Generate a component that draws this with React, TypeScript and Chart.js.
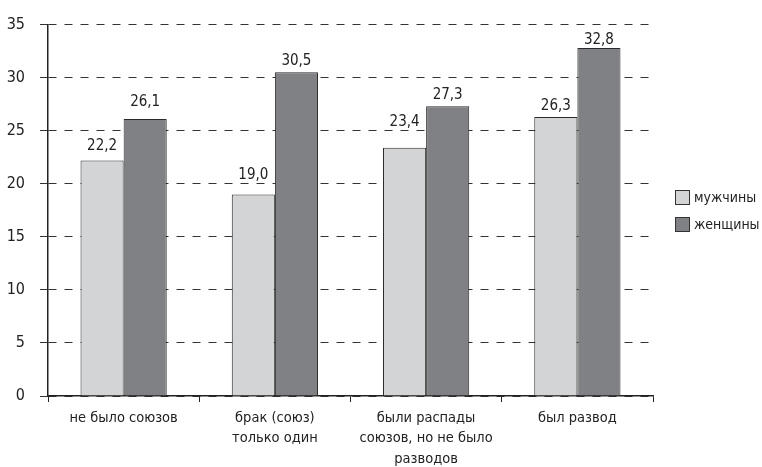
import React, { useEffect, useRef } from "react";
import { Chart, registerables } from "chart.js";

Chart.register(...registerables);

const categories: string[][] = [
  ["не было союзов"],
  ["брак (союз)", "только один"],
  ["были распады", "союзов, но не было", "разводов"],
  ["был развод"],
];
const seriesNames = ["мужчины", "женщины"];
const men = [22.2, 19.0, 23.4, 26.3];
const women = [26.1, 30.5, 27.3, 32.8];
const yTicks = [0, 5, 10, 15, 20, 25, 30, 35];

// gap (px) between bar top and its value label, per series, as in the source layout
const labelGapMen = [10, 15, 22, 7];
const labelGapWomen = [13, 7, 7, 4];

const FONT = "'Liberation Sans Narrow', 'Arial Narrow', 'DejaVu Sans Condensed', 'Liberation Sans', sans-serif";
const TEXT = "#222";

const fmt = (v: number) => v.toFixed(1).replace(".", ",");

const valueLabels = {
  id: "valueLabels",
  afterDatasetsDraw(chart: any) {
    const ctx = chart.ctx;
    ctx.save();
    ctx.font = `15px ${FONT}`;
    ctx.fillStyle = TEXT;
    ctx.textAlign = "center";
    ctx.textBaseline = "alphabetic";
    const gaps = [labelGapMen, labelGapWomen];
    chart.data.datasets.forEach((ds: any, i: number) => {
      const meta = chart.getDatasetMeta(i);
      meta.data.forEach((bar: any, j: number) => {
        ctx.fillText(fmt(ds.data[j]), bar.x, bar.y - gaps[i][j]);
      });
    });
    ctx.restore();
  },
};

const sideLegend = {
  id: "sideLegend",
  afterDraw(chart: any) {
    const ctx = chart.ctx;
    ctx.save();
    ctx.font = `14px ${FONT}`;
    ctx.textAlign = "left";
    ctx.textBaseline = "middle";
    const x = 675;
    const y0 = 190;
    chart.data.datasets.forEach((ds: any, i: number) => {
      const y = y0 + i * 27;
      ctx.fillStyle = ds.backgroundColor;
      ctx.fillRect(x + 0.5, y + 0.5, 14, 14);
      ctx.strokeStyle = "#333";
      ctx.lineWidth = 1;
      ctx.strokeRect(x + 0.5, y + 0.5, 14, 14);
      ctx.fillStyle = TEXT;
      ctx.fillText(ds.label, x + 19, y + 8);
    });
    ctx.restore();
  },
};

export default function App() {
  const ref = useRef<HTMLCanvasElement>(null);
  useEffect(() => {
    if (!ref.current) return;
    const chart = new Chart(ref.current, {
      type: "bar",
      data: {
        labels: categories,
        datasets: [
          {
            label: seriesNames[0],
            data: men,
            backgroundColor: "#d3d4d6",
            borderColor: "#2a2a2a",
            borderWidth: 1,
          },
          {
            label: seriesNames[1],
            data: women,
            backgroundColor: "#808184",
            borderColor: "#2a2a2a",
            borderWidth: 1,
          },
        ],
      },
      options: {
        animation: false,
        responsive: false,
        maintainAspectRatio: false,
        layout: { padding: { top: 20, right: 109, left: 0, bottom: 0 } },
        plugins: {
          legend: { display: false },
          tooltip: { enabled: false },
        },
        datasets: {
          bar: { categoryPercentage: 0.57, barPercentage: 1.0 },
        },
        scales: {
          x: {
            offset: true,
            grid: {
              display: true,
              offset: true,
              drawOnChartArea: false,
              drawTicks: true,
              tickLength: 6,
              color: "#222",
            },
            border: { display: true, color: "#222", width: 1.5 },
            ticks: {
              color: TEXT,
              font: { family: FONT, size: 14.5, lineHeight: 1.4 },
              padding: 6,
              maxRotation: 0,
              autoSkip: false,
            },
            afterFit: (s: any) => {
              s.height = 71;
            },
          },
          y: {
            min: 0,
            max: 35,
            afterBuildTicks: (s: any) => {
              s.ticks = yTicks.map((v) => ({ value: v }));
            },
            grid: {
              color: "#333",
              lineWidth: 1,
              tickLength: 8,
              tickColor: "#333",
            },
            border: { display: true, color: "#222", width: 1.5, dash: [8, 8] },
            ticks: {
              color: TEXT,
              font: { family: FONT, size: 16 },
              padding: 15,
            },
            afterFit: (s: any) => {
              s.width = 48;
            },
          },
        },
      },
      plugins: [valueLabels, sideLegend],
    });
    return () => chart.destroy();
  }, []);
  return (
    <div style={{ position: "fixed", left: 0, top: 0, width: 762, height: 467, background: "#fff" }}>
      <canvas ref={ref} width={762} height={467} style={{ width: 762, height: 467 }} />
    </div>
  );
}
